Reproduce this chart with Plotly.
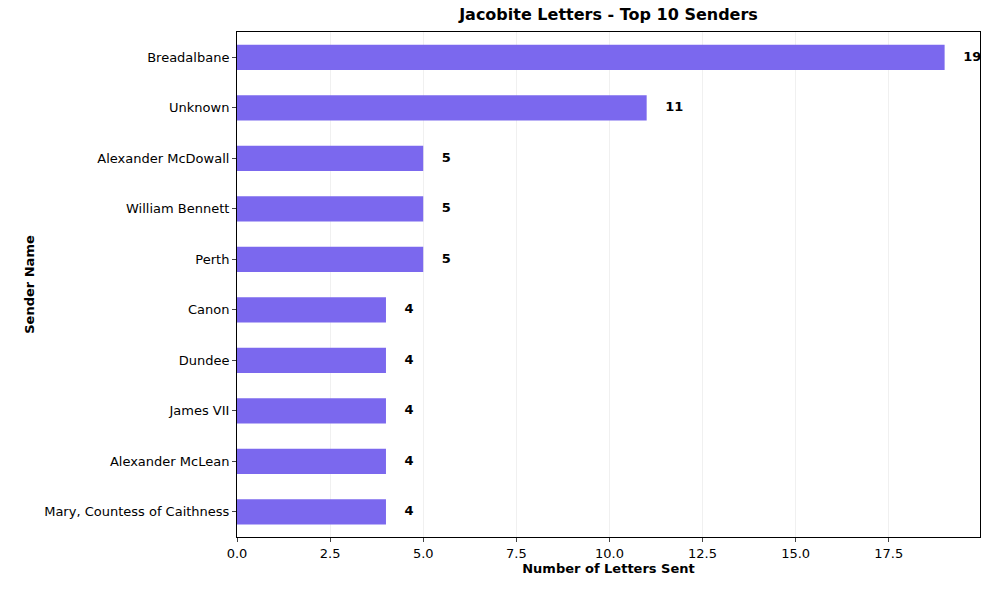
import plotly.graph_objects as go

senders = ["Breadalbane", "Unknown", "Alexander McDowall", "William Bennett", "Perth",
           "Canon", "Dundee", "James VII", "Alexander McLean", "Mary, Countess of Caithness"]
counts = [19, 11, 5, 5, 5, 4, 4, 4, 4, 4]
xticks = [0, 2.5, 5, 7.5, 10, 12.5, 15, 17.5]
xtick_text = ["0.0", "2.5", "5.0", "7.5", "10.0", "12.5", "15.0", "17.5"]

fig = go.Figure()
fig.add_trace(go.Bar(y=list(range(len(senders))), x=counts, orientation="h", width=0.5,
                     marker=dict(color="#7B68EE", line=dict(width=0))))
fig.add_trace(go.Scatter(y=list(range(len(senders))), x=[c + 0.5 for c in counts], mode="text",
                         text=[f"<b>{c}</b>" for c in counts], textposition="middle right",
                         textfont=dict(size=13, color="black"), cliponaxis=False))
fig.update_layout(
    width=976, height=574, margin=dict(l=229, r=4, t=24, b=45),
    plot_bgcolor="white", paper_bgcolor="white", showlegend=False,
    font=dict(family="DejaVu Sans", size=13, color="black"),
    title=dict(text="<b>Jacobite Letters - Top 10 Senders</b>", x=0.5, xanchor="center",
               xref="paper", y=1 - 1/574, yanchor="top", font=dict(size=16)),
    xaxis=dict(range=[0, 19.95], tickvals=xticks, ticktext=xtick_text, showgrid=True,
               gridcolor="rgba(0,0,0,0.06)", zeroline=False, showline=True, mirror=True,
               linecolor="black", ticks="outside", ticklen=4,
               title=dict(text="<b>Number of Letters Sent</b>", standoff=4, font=dict(size=13))),
    yaxis=dict(range=[9.5, -0.5], tickvals=list(range(len(senders))), ticktext=senders,
               showgrid=False, zeroline=False, showline=True, mirror=True, linecolor="black",
               ticks="outside", ticklen=4,
               title=dict(text="<b>Sender Name</b>", standoff=6, font=dict(size=13))),
)
fig.write_html("out.html")
